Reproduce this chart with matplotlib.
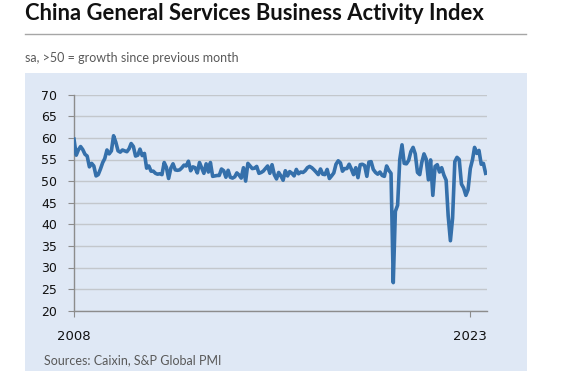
import numpy as np
import pandas as pd
import matplotlib
matplotlib.use("Agg")
import matplotlib.pyplot as plt
from matplotlib.patches import Rectangle
from matplotlib.lines import Line2D

# Indice mensuel (sa), janvier 2008 -> aout 2023
v2008 = [59.7, 56.0, 57.2, 58.0, 57.3, 56.2, 55.8, 53.3, 54.1, 53.5, 51.2, 51.5]
v2009 = [52.8, 54.3, 55.2, 57.2, 56.3, 57.0, 60.5, 59.0, 57.0, 56.7, 57.2, 57.0]
v2010 = [56.8, 57.5, 58.7, 58.0, 55.8, 56.0, 57.4, 55.9, 56.4, 53.0, 53.5, 52.3]
v2011 = [52.3, 51.8, 51.6, 51.7, 51.5, 54.3, 53.2, 50.6, 53.0, 54.0, 52.6, 52.5]
v2012 = [52.6, 53.1, 53.7, 53.5, 54.6, 52.4, 53.3, 53.1, 51.9, 54.3, 53.0, 51.8]
v2013 = [54.0, 52.1, 54.3, 51.1, 51.2, 51.3, 51.3, 52.8, 52.4, 50.9, 52.5, 50.9]
v2014 = [50.7, 51.0, 51.9, 51.4, 50.7, 53.1, 50.0, 54.1, 53.5, 52.9, 53.0, 53.4]
v2015 = [51.8, 52.0, 52.3, 52.9, 53.5, 51.8, 53.8, 51.5, 50.5, 52.0, 51.2, 50.2]
v2016 = [52.4, 51.2, 52.2, 51.8, 51.2, 52.7, 51.7, 52.1, 52.0, 52.4, 53.1, 53.4]
v2017 = [53.1, 52.6, 52.1, 51.5, 52.8, 51.6, 51.5, 52.7, 50.6, 51.2, 51.9, 53.9]
v2018 = [54.7, 54.2, 52.3, 52.9, 52.9, 53.9, 52.8, 51.5, 53.1, 50.8, 53.8, 53.9]
v2019 = [53.6, 51.1, 54.4, 54.5, 52.7, 52.0, 51.6, 52.1, 51.3, 51.1, 53.5, 52.5]
v2020 = [51.8, 26.5, 43.0, 44.4, 55.0, 58.4, 54.1, 54.0, 54.8, 56.8, 57.8, 56.3]
v2021 = [52.0, 51.5, 54.3, 56.3, 55.1, 50.3, 54.9, 46.7, 53.4, 53.8, 52.1, 53.1]
v2022 = [51.4, 50.2, 42.0, 36.2, 41.4, 54.5, 55.5, 55.0, 49.3, 48.4, 46.7, 48.0]
v2023 = [52.9, 55.0, 57.8, 56.4, 57.1, 53.9, 54.1, 51.8]

valeurs = (v2008 + v2009 + v2010 + v2011 + v2012 + v2013 + v2014 + v2015
           + v2016 + v2017 + v2018 + v2019 + v2020 + v2021 + v2022 + v2023)
dates = pd.date_range("2008-01-01", periods=len(valeurs), freq="MS")

ticks_x = [pd.Timestamp("2008-01-01"), pd.Timestamp("2023-01-01")]
labels_x = ["2008", "2023"]
ticks_y = list(range(20, 75, 5))

fond = "#dfe8f5"
bleu = "#3570ab"
gris_txt = "#595959"

fig = plt.figure(figsize=(5.61, 3.71), dpi=100)
fig.patch.set_facecolor("white")

# panneau bleu clair
fig.patches.append(Rectangle((25 / 561, 0), (527 - 25) / 561, (371 - 73) / 371,
                             transform=fig.transFigure, facecolor=fond,
                             edgecolor="none", zorder=-5))
# trait sous le titre
fig.lines.append(Line2D([25 / 561, 526 / 561], [1 - 34 / 371, 1 - 34 / 371],
                        transform=fig.transFigure, color="#a6a6a6", lw=1))

fig.text(25 / 561, 1 - 14 / 371, "China General Services Business Activity Index",
         fontsize=15.8, fontweight="bold", family="Lato", va="center", ha="left",
         color="#111111")
fig.text(25 / 561, 1 - 58 / 371, "sa, >50 = growth since previous month",
         fontsize=9, family="Lato", va="center", ha="left", color=gris_txt)
fig.text(44 / 561, 1 - 360 / 371, "Sources: Caixin, S&P Global PMI",
         fontsize=9, family="Lato", va="center", ha="left", color=gris_txt)

ax = fig.add_axes([74 / 561, 60.3 / 371, (487 - 74) / 561, (310.7 - 94.7) / 371])
ax.set_zorder(5)
ax.set_facecolor("none")
ax.plot(dates, valeurs, color=bleu, lw=2.6, solid_joinstyle="round", zorder=3)

ax.set_ylim(20, 70)
ax.set_xlim(dates[0], pd.Timestamp("2023-08-20"))
ax.set_yticks(ticks_y)
ax.set_xticks(ticks_x)
ax.set_xticklabels(labels_x)
ax.yaxis.grid(True, color="#c3c7cc", lw=1)
ax.set_axisbelow(True)

for s in ["top", "right"]:
    ax.spines[s].set_visible(False)
for s in ["left", "bottom"]:
    ax.spines[s].set_color("#8c8c8c")
    ax.spines[s].set_linewidth(1)

ax.tick_params(axis="y", length=4, color="#8c8c8c", labelsize=9, pad=8,
               labelcolor="#111111")
ax.tick_params(axis="x", length=4, color="#8c8c8c", labelsize=9.5, pad=10,
               labelcolor="#111111")

fig.savefig("out.png", dpi=100, facecolor="white")
